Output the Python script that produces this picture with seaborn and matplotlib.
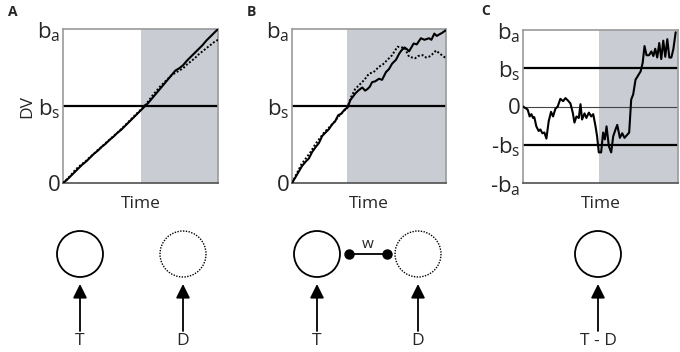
import numpy as np
import seaborn as sns
import matplotlib.pyplot as plt
from matplotlib.patches import Ellipse

sns.set_style("white")
plt.rcParams["font.family"] = ["Open Sans", "DejaVu Sans"]
plt.rcParams["mathtext.default"] = "regular"

# ---- data (time in % of trial, DV in units of b_a) ----
time_a = [0, 2.5, 5, 7.5, 10, 12.5, 15, 17.5, 20, 22.5, 25, 27.5, 30, 32.5, 35,
          37.5, 40, 42.5, 45, 47.5, 50, 52.5, 55, 57.5, 60, 62.5, 65, 67.5, 70,
          72.5, 75, 77.5, 80, 82.5, 85, 87.5, 90, 92.5, 95, 97.5, 100]
a_target = [0, .02, .045, .07, .095, .12, .14, .165, .19, .21, .235, .255, .28,
            .3, .325, .345, .37, .395, .42, .445, .47, .495, .52, .55, .58, .61,
            .64, .67, .70, .73, .745, .765, .795, .82, .845, .87, .895, .925,
            .95, .975, 1.0]
a_distr = [0, .025, .05, .08, .105, .125, .145, .17, .19, .215, .235, .26, .28,
           .305, .325, .35, .375, .40, .425, .45, .475, .50, .53, .565, .595,
           .625, .65, .675, .70, .715, .73, .745, .77, .79, .81, .835, .855,
           .875, .895, .915, .93]

time_b_t = [0, 3, 6.5, 9, 11, 13, 15.5, 17.5, 19.6, 22, 24, 26, 28, 30, 32, 34,
            36, 38, 41, 43, 45.6, 47.5, 49, 50.5, 52, 54, 56.5, 58.5, 61, 63,
            65, 67.5, 69.6, 71, 73, 74.5, 76, 77.5, 79, 81, 83.7, 86, 89, 90.5,
            92.4, 94, 95.7, 97.5, 99.6]
b_target = [0, .05, .11, .14, .16, .2, .235, .26, .305, .33, .35, .38, .40, .44,
            .45, .475, .49, .54, .58, .6, .62, .6, .61, .625, .655, .66, .677,
            .67, .72, .74, .775, .80, .84, .86, .88, .87, .855, .88, .906, .9,
            .94, .93, .94, .93, .97, .955, .965, .975, .99]
time_b_d = [0, 3, 6, 9, 12, 15, 18, 21, 24, 27, 30, 33, 36, 38, 41, 44, 47, 50,
            53, 56.5, 59, 61, 63, 65, 68.5, 71, 73, 74.5, 76, 78, 80, 82, 85,
            87, 89, 91, 93.5, 96, 100]
b_distr = [0, .06, .12, .16, .2, .25, .29, .33, .36, .39, .43, .46, .49, .55,
           .61, .64, .67, .71, .72, .755, .77, .79, .81, .83, .885, .88, .88,
           .85, .82, .815, .81, .825, .83, .815, .82, .835, .86, .84, .81]

time_c = [0, 1.5, 3.0, 4.3, 5.4, 6.5, 7.3, 8.6, 10.1, 11.2, 12.5, 13.8, 15.1,
          16.6, 18.1, 19.4, 20.9, 22.4, 24.1, 25.9, 27.4, 28.9, 30.6, 32.1,
          33.2, 34.5, 36.0, 37.1, 38.1, 39.7, 40.9, 42.5, 44.0, 45.3, 46.8,
          47.8, 48.9, 50.4, 51.7, 52.8, 53.9, 55.4, 56.9, 58.2, 59.7, 60.8,
          62.5, 64.0, 65.5, 67.2, 68.5, 69.8, 71.1, 72.6, 74.1, 75.9, 77.2,
          78.4, 79.7, 81.3, 82.8, 84.1, 85.3, 86.6, 87.9, 89.2, 90.5, 91.8,
          93.1, 94.4, 95.7, 97.0, 98.5]
c_diff = [0.0, -0.02, -0.04, -0.13, -0.1, -0.15, -0.14, -0.26, -0.32, -0.3,
          -0.35, -0.34, -0.42, -0.19, -0.07, -0.13, -0.03, 0.0, 0.1, 0.07,
          0.11, 0.08, 0.04, -0.08, -0.21, -0.13, -0.15, 0.03, -0.17, -0.09,
          -0.15, -0.08, -0.13, -0.1, -0.26, -0.39, -0.6, -0.6, -0.34, -0.43,
          -0.26, -0.52, -0.6, -0.39, -0.3, -0.24, -0.41, -0.35, -0.41, -0.37,
          -0.34, 0.09, 0.16, 0.35, 0.40, 0.46, 0.57, 0.79, 0.67, 0.67, 0.72,
          0.66, 0.755, 0.64, 0.83, 0.62, 0.86, 0.65, 0.88, 0.64, 0.64, 0.75,
          0.97]

bound_s = 0.5
shade_start = {"A": 50, "B": 36, "C": 49}
ticks_ab = [0, 0.5, 1]
labels_ab = ["0", "b$_s$", "b$_a$"]
ticks_c = [-1, -0.5, 0, 0.5, 1]
labels_c = ["-b$_a$", "-b$_s$", "0", "b$_s$", "b$_a$"]

SHADE = "#c9ccd2"
DOTS = (0, (1, 1))
W, H = 680, 352

fig = plt.figure(figsize=(6.8, 3.52), dpi=100)


def px_axes(x0, y0, x1, y1):
    return fig.add_axes([x0 / W, 1 - y1 / H, (x1 - x0) / W, (y1 - y0) / H])


def style(ax, key, ticks, labels, ylo):
    ax.axvspan(shade_start[key], 100, color=SHADE, lw=0, zorder=0)
    ax.set_xlim(0, 100)
    ax.set_ylim(ylo, 1)
    ax.set_xticks([])
    ax.set_yticks(ticks)
    ax.set_yticklabels(labels, fontsize=16)
    ax.tick_params(axis="y", length=0, pad=2)
    ax.set_xlabel("Time", fontsize=12.5, labelpad=9)
    for s in ["top", "right", "left"]:
        ax.spines[s].set_color("#9a9a9a")
        ax.spines[s].set_linewidth(1.2)
    ax.spines["bottom"].set_color("#505050")
    ax.spines["bottom"].set_linewidth(1.2)


axA = px_axes(63, 29, 218, 183)
axB = px_axes(292, 29, 446, 183)
axC = px_axes(523, 30, 678, 183)

for ax, key in [(axA, "A"), (axB, "B")]:
    style(ax, key, ticks_ab, labels_ab, 0)
    ax.axhline(bound_s, color="black", lw=1.6, zorder=2)
style(axC, "C", ticks_c, labels_c, -1)
for yv in [bound_s, -bound_s]:
    axC.axhline(yv, color="black", lw=1.6, zorder=2)
axC.axhline(0, color="#444444", lw=0.8, zorder=2)

sns.lineplot(x=time_a, y=a_distr, ax=axA, color="black", lw=1.4, linestyle=DOTS, zorder=3)
sns.lineplot(x=time_a, y=a_target, ax=axA, color="black", lw=1.5, zorder=4)
sns.lineplot(x=time_b_d, y=b_distr, ax=axB, color="black", lw=1.4, linestyle=DOTS, zorder=3)
sns.lineplot(x=time_b_t, y=b_target, ax=axB, color="black", lw=1.5, zorder=4)
sns.lineplot(x=time_c, y=c_diff, ax=axC, color="black", lw=1.5, zorder=4)

axA.set_ylabel("DV", fontsize=12.5, labelpad=1)
for ax in (axB, axC):
    ax.set_ylabel("")

# panel letters
fig.text(8 / W, 1 - 12 / H, "A", fontsize=10, fontweight="bold", va="center")
fig.text(247 / W, 1 - 12 / H, "B", fontsize=10, fontweight="bold", va="center")
fig.text(481 / W, 1 - 11 / H, "C", fontsize=10, fontweight="bold", va="center")

# ---- network diagrams below ----
net = fig.add_axes([0, 0, 1, 1], zorder=-1)
net.set_xlim(0, W)
net.set_ylim(H, 0)
net.axis("off")

units = [(80, "-", "T"), (183, DOTS, "D"), (317, "-", "T"), (418, DOTS, "D"), (598, "-", "T - D")]
cy, r = 254, 23
for cx, ls, lab in units:
    net.add_patch(Ellipse((cx, cy), 2 * r, 2 * r, fill=False, lw=1.3 if ls == "-" else 1.0,
                          linestyle=ls, edgecolor="black"))
    net.annotate("", xy=(cx, 284), xytext=(cx, 331),
                 arrowprops=dict(arrowstyle="-|>,head_length=0.6,head_width=0.3",
                                 color="black", lw=1.3, mutation_scale=14, shrinkA=0, shrinkB=0))
    net.text(cx, 341, lab, fontsize=12.5, ha="center", va="center")

net.plot([349, 387], [254, 254], color="black", lw=1.3, marker="o", markersize=6.5)
net.text(368, 244, "w", fontsize=11, ha="center", va="center")

fig.savefig("out.png", dpi=100)
